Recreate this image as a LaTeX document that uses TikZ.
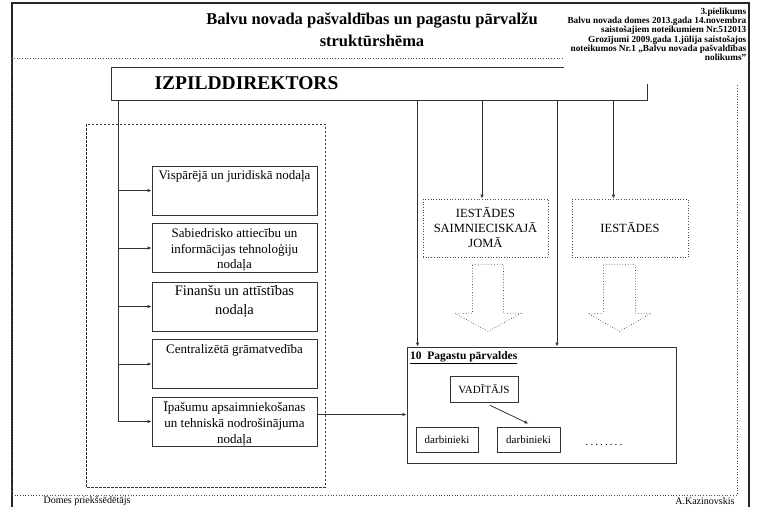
\documentclass[tikz,border=0pt]{standalone}
\usepackage{fontspec}
\setmainfont{Liberation Serif}
\usetikzlibrary{arrows.meta,positioning}

\tikzset{
	ln/.style={draw=black!80, line width=0.8pt},
	arr/.style={ln, -{Latex[length=4pt,width=3.5pt]}},
	frame/.style={draw=black!85, line width=1.2pt},
	dotline/.style={draw=black!70, line width=0.7pt, dotted},
	dashbox/.style={draw=black!80, line width=0.8pt, dash pattern=on 2.5pt off 1.5pt},
	box/.style={ln, inner sep=0pt},
	deptbox/.style={box, minimum width=165pt, minimum height=49pt},
	depttext/.style={anchor=north, align=center, inner sep=0pt, font=\fontsize{13}{15.8}\selectfont},
	instbox/.style={dotline, minimum width=125pt, minimum height=58pt, align=center, font=\fontsize{12.5}{15}\selectfont},
	smallbox/.style={box, line width=0.6pt, font=\fontsize{11}{13}\selectfont},
	blockarr/.style={dotline, line join=miter},
}

\begin{document}
\begin{tikzpicture}[x=1pt,y=-1pt]
	\useasboundingbox (0,0) rectangle (757,506);
	\draw[frame] (12,520) -- (12,3) -- (749,3) -- (749,520);
	\draw[dotline] (11.5,58) rectangle (737,495);
	\node[font=\fontsize{16.5}{22}\selectfont\bfseries, align=center] (virsraksts) at (372,30) {Balvu novada pašvaldības un pagastu pārvalžu\\struktūrshēma};
	\node[box, minimum width=536pt, minimum height=33pt] (izpild) at (379,83.5) {};
	\node[anchor=west, font=\fontsize{19.5}{23}\selectfont\bfseries] (izpildtxt) at (151,83.5) {IZPILDDIREKTORS};
	\node[anchor=north east, fill=white, inner sep=0pt, minimum width=184pt, minimum height=80pt] (pielapa) at (748,4) {};
	\node[anchor=north east, align=right, inner sep=0pt, font=\fontsize{9.3}{9.3}\selectfont\bfseries] (pielikums) at ([xshift=-1.5pt,yshift=-3.5pt]pielapa.north east) {3.pielikums\\Balvu novada domes 2013.gada 14.novembra\\saistošajiem noteikumiem Nr.512013\\Grozījumi 2009.gada 1.jūlija saistošajos\\noteikumos Nr.1 „Balvu novada pašvaldības\\nolikums”};
	\draw[dashbox] (86,124) rectangle (325,487);
	\node[deptbox] (vispar) at (234.5,190.5) {};
	\node[deptbox] (sabiedr) at (234.5,248) {};
	\node[deptbox] (finansu) at (234.5,306.5) {};
	\node[deptbox] (gramat) at (234.5,364) {};
	\node[deptbox] (ipasumu) at (234.5,421.5) {};
	\node[depttext] (visparTxt) at ([yshift=-5pt]vispar.north) {Vispārējā un juridiskā nodaļa};
	\node[depttext] (sabiedrTxt) at ([yshift=-5pt]sabiedr.north) {Sabiedrisko attiecību un\\informācijas tehnoloģiju\\nodaļa};
	\node[depttext, font=\fontsize{14.5}{18.5}\selectfont] (finansuTxt) at ([yshift=-4pt]finansu.north) {Finanšu un attīstības\\nodaļa};
	\node[depttext] (gramatTxt) at ([yshift=-5pt]gramat.north) {Centralizētā grāmatvedība};
	\node[depttext] (ipasumuTxt) at ([yshift=-5pt]ipasumu.north) {Īpašumu apsaimniekošanas\\un tehniskā nodrošinājuma\\nodaļa};
	\coordinate (trunk) at ([xshift=8pt]izpild.south west);
	\draw[ln] (trunk) -- (trunk |- ipasumu.west);
	\draw[arr] (trunk |- vispar.west) -- (vispar.west);
	\draw[arr] (trunk |- sabiedr.west) -- (sabiedr.west);
	\draw[arr] (trunk |- finansu.west) -- (finansu.west);
	\draw[arr] (trunk |- gramat.west) -- (gramat.west);
	\draw[arr] (trunk |- ipasumu.west) -- (ipasumu.west);
	\node[instbox] (saimn) at (485.5,228) {IESTĀDES\\SAIMNIECISKAJĀ\\JOMĀ};
	\node[instbox, minimum width=116pt] (iestades) at (630,228) {IESTĀDES};
	\node[box, line width=0.9pt, minimum width=269pt, minimum height=116pt] (pagasti) at (541.5,405) {};
	\node[anchor=west, inner sep=0pt, font=\fontsize{11.5}{13}\selectfont\bfseries] (pagastiTxt) at (410,358) {\underline{10\ \ Pagastu pārvaldes}};
	\node[smallbox, minimum width=68pt, minimum height=26pt] (vaditajs) at (484,389) {VADĪTĀJS};
	\node[smallbox, minimum width=62pt, minimum height=25pt] (darb1) at (447,439.5) {darbinieki};
	\node[smallbox, minimum width=63pt, minimum height=25pt] (darb2) at (528.5,439.5) {darbinieki};
	\node[font=\fontsize{11}{13}\selectfont, inner sep=0pt] (citi) at (604,445) {\makebox[40pt]{\dotfill}};
	\draw[arr] ([xshift=6pt,yshift=-3pt]vaditajs.south) -- ([yshift=3pt]darb2.north);
	\coordinate (toSaimn) at ([xshift=-3.5pt]saimn.north);
	\coordinate (toIestades) at ([xshift=-16.5pt]iestades.north);
	\coordinate (toPag1) at ([xshift=11pt]pagasti.north west);
	\coordinate (toPag2) at ([xshift=15.5pt]pagasti.north);
	\draw[arr] (izpild.south -| toSaimn) -- (toSaimn);
	\draw[arr] (izpild.south -| toIestades) -- (toIestades);
	\draw[arr] (izpild.south -| toPag1) -- (toPag1);
	\draw[arr] (izpild.south -| toPag2) -- (toPag2);
	\draw[arr] ([yshift=7pt]ipasumu.east) -- ([yshift=7pt]ipasumu.east -| pagasti.west);
	\draw[blockarr] ([xshift=-13pt,yshift=-7pt]saimn.south) -- ++(31,0) -- ++(0,49) -- ++(17.5,0) -- ++(-33,18) -- ++(-33,-18) -- ++(17.5,0) -- cycle;
	\draw[blockarr] ([xshift=-26.5pt,yshift=-7pt]iestades.south) -- ++(32,0) -- ++(0,49) -- ++(15.5,0) -- ++(-31.5,18) -- ++(-31.5,-18) -- ++(15.5,0) -- cycle;
	\node[anchor=west, font=\fontsize{10}{12}\selectfont] (priekssedetajs) at (40,501) {Domes priekšsēdētājs};
	\node[anchor=east, font=\fontsize{10}{12}\selectfont] (kazinovskis) at (738,501) {A.Kazinovskis};
\end{tikzpicture}
\end{document}
